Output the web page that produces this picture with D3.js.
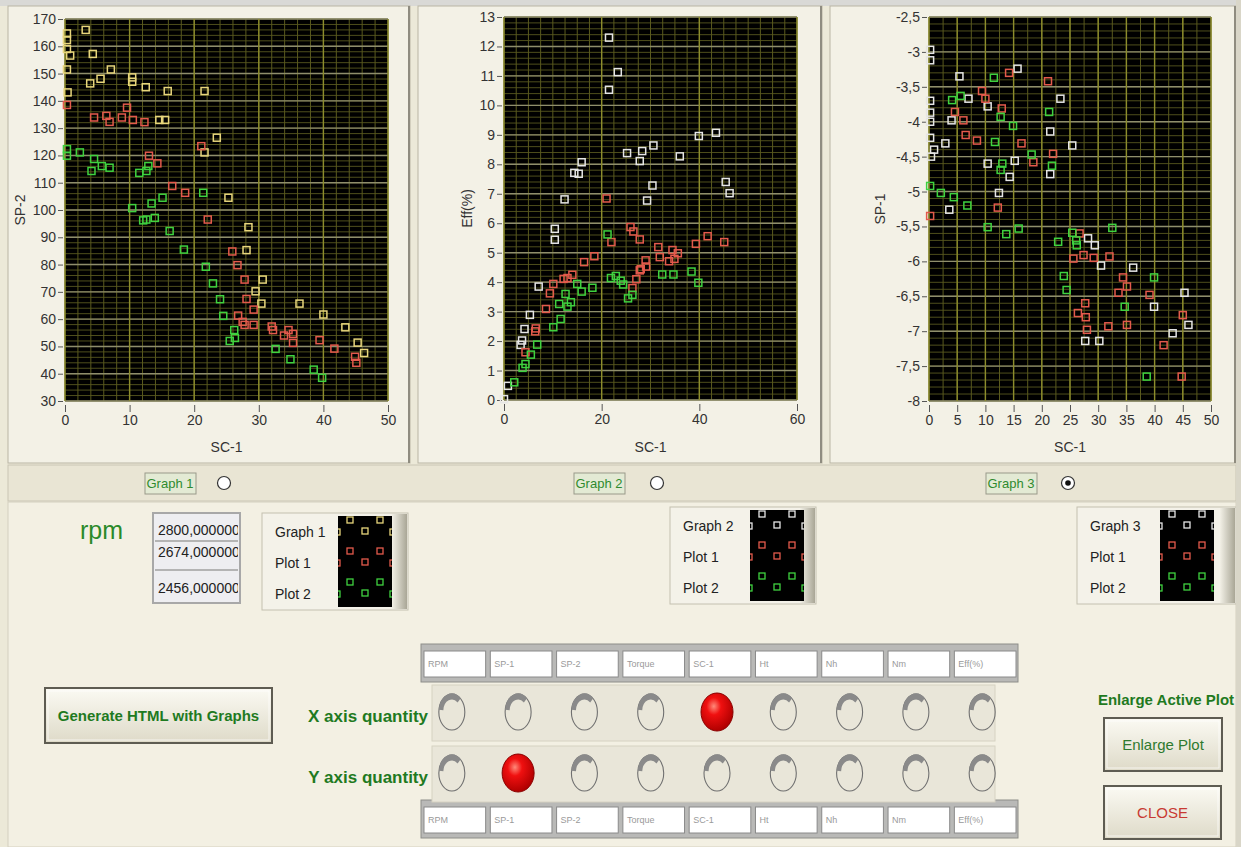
<!DOCTYPE html>
<html>
<head>
<meta charset="utf-8">
<script src="https://cdnjs.cloudflare.com/ajax/libs/d3/7.8.5/d3.min.js"></script>
<style>
body { margin: 0; background: #ECE9D8; overflow: hidden; }
svg { display: block; }
</style>
</head>
<body>
<div id="svg-container"></div>
<script>
// ---- data: [SC-1, y] ----
var g1Yellow = [[0.3,164.7],[0.3,162.3],[0.3,159],[0.8,156.6],[0.3,151.5],[0.4,143.1],[3.2,166],[4.3,157.2],[3.9,146.4],[5.5,148.1],
    [7.1,151.5],[10.4,148.6],[10.4,147],[12.5,145],[15.9,143.6],[21.6,143.6],[14.6,133],[15.5,133],[23.5,126.5],[21.6,121.1],
    [25.3,104.5],[28.4,93.7],[28.1,85.3],[30.6,74.5],[29.5,70.2],[30.4,65.7],[36.3,65.7],[40,61.7],[43.4,57],[45.3,51.4],[46.3,47.6]]
var g1Red = [[0.3,138.5],[4.5,133.9],[6.4,134.5],[6.9,132.3],[8.8,133.9],[9.6,137.5],[10.5,133],[12.3,132.2],[13,119.9],[14.3,117.1],
    [21.1,123.4],[16.6,108.8],[18.6,106.3],[22.1,96.5],[25.9,84.8],[26.7,79.8],[27.8,74.5],[28.1,67.4],[26.8,61.3],[27.5,59],
    [27.8,57.9],[29.2,63.5],[29.2,57.9],[32,57.3],[32.2,56],[33.9,54],[34.6,56],[35.3,54.6],[35.3,51.3],[39.4,52.3],[41.7,49.2],
    [44.9,46.2],[45.1,44]]
var g1Green = [[0.3,122.3],[0.3,119.9],[2.3,121.1],[4.5,118.7],[4.1,114.3],[5.7,116.1],[6.9,115.5],[11.5,113.6],[12.6,114.3],[12.9,116.1],
    [10.4,100.7],[12.1,96.2],[12.6,96.5],[13.9,97.1],[13.4,102.4],[15.1,104.5],[16.2,92.3],[18.4,85.5],[21.4,106.3],[21.8,79.2],
    [22.9,73.1],[24,67.3],[24.5,61.2],[26.2,56],[26.3,53.1],[25.5,52],[32.6,49.1],[34.9,45.3],[38.5,41.5],[39.8,38.5]]

var g2White = [[0,0.03],[0.8,0.48],[3.4,1.87],[3.7,2.02],[4.2,2.41],[5.3,2.89],[7.1,3.85],[10.4,5.44],[10.4,5.81],[12.4,6.81],
    [14.4,7.71],[15.3,7.68],[15.9,8.07],[21.5,12.3],[23.3,11.13],[21.5,10.53],[25.2,8.38],[28.3,8.45],[27.8,8.11],[30.6,8.64],
    [30.4,7.28],[29.3,6.77],[36,8.27],[39.9,8.96],[43.4,9.07],[45.4,7.4],[46.2,7.02]]
var g2Red = [[4.4,1.62],[6.4,2.33],[6.5,2.43],[8.6,3.09],[9.4,3.62],[10.1,3.94],[12.2,4.11],[13,4.14],[14,4.25],[16.4,4.68],
    [18.5,4.88],[21,6.84],[22,5.36],[25.9,5.87],[26.5,5.72],[27.8,5.45],[29,4.74],[29.1,4.53],[28,4.44],[27.8,4.4],[27.1,4.1],
    [26.3,3.8],[31.6,5.19],[31.9,4.85],[33.8,4.71],[34.5,5.09],[34.9,4.79],[35.6,4.98],[39.3,5.3],[41.7,5.56],[45.1,5.36]]
var g2Green = [[2.1,0.6],[3.8,1.09],[4.4,1.22],[5.5,1.54],[6.8,1.88],[10.1,2.47],[11.6,2.75],[11.3,3.26],[12.6,3.6],[13,3.17],
    [13.7,3.32],[15,3.94],[15.9,3.68],[18.1,3.81],[21.2,5.62],[21.9,4.14],[22.9,4.21],[23.9,4.05],[24.4,3.92],[25.4,3.45],
    [26.3,3.57],[32.4,4.26],[34.7,4.26],[38.4,4.36],[39.8,3.98]]

var g3White = [[0.2,-2.97],[0.2,-3.12],[0.2,-3.7],[0.2,-3.87],[0.2,-4.0],[0.2,-4.23],[0.35,-4.5],[0.9,-4.4],[2.9,-4.31],[5.4,-3.35],
    [4,-3.98],[7,-3.67],[3.6,-5.26],[10.4,-3.78],[10.4,-4.6],[12.4,-5.02],[14.3,-4.79],[15.2,-4.56],[15.7,-3.24],[21.5,-4.14],
    [21.5,-4.75],[23.3,-3.67],[25.4,-4.34],[28.2,-5.67],[29.4,-5.77],[30.5,-6.06],[27.7,-7.14],[30.2,-7.14],[36.2,-6.09],
    [39.9,-6.65],[43.2,-7.03],[45.3,-6.45],[46,-6.91]]
var g3Red = [[0.2,-5.35],[4.6,-3.86],[6.1,-3.98],[6.5,-4.19],[8.5,-4.27],[9.4,-3.56],[10,-3.67],[12.9,-3.81],[12.2,-5.23],[14.2,-3.3],
    [16.4,-4.31],[18.5,-4.58],[21.1,-3.42],[22,-4.46],[25.6,-5.96],[26.7,-5.6],[27.4,-5.91],[29.2,-5.95],[32,-5.93],[26.4,-6.74],
    [27.7,-6.6],[27.8,-6.8],[28,-6.98],[31.8,-6.93],[33.6,-6.45],[34.4,-6.23],[35.1,-6.36],[35.1,-6.91],[39.1,-6.48],[41.6,-7.2],
    [45,-6.77],[44.8,-7.65]]
var g3Green = [[0.2,-4.92],[2.1,-5.02],[4.4,-5.08],[4.1,-3.69],[5.6,-3.63],[6.8,-5.2],[10.4,-5.51],[11.5,-3.37],[11.7,-4.29],[12.7,-3.93],
    [13,-4.6],[12.7,-4.69],[13.7,-5.61],[14.9,-4.06],[15.9,-5.53],[18.2,-4.47],[21.3,-3.86],[21.8,-4.63],[22.9,-5.72],[25.4,-5.59],
    [26.1,-5.7],[26.2,-5.77],[23.9,-6.21],[24.4,-6.41],[32.5,-5.52],[34.7,-6.65],[39.9,-6.23],[38.6,-7.65]]

// tick labels
var g1XTicks = [0, 10, 20, 30, 40, 50]
var g1YTicks = [30, 40, 50, 60, 70, 80, 90, 100, 110, 120, 130, 140, 150, 160, 170]
var g2XTicks = [0, 20, 40, 60]
var g2YTicks = [0, 1, 2, 3, 4, 5, 6, 7, 8, 9, 10, 11, 12, 13]
var g3XTicks = [0, 5, 10, 15, 20, 25, 30, 35, 40, 45, 50]
var g3YTicks = [-8, -7.5, -7, -6.5, -6, -5.5, -5, -4.5, -4, -3.5, -3, -2.5]

// front panel texts
var quantities = ["RPM", "SP-1", "SP-2", "Torque", "SC-1", "Ht", "Nh", "Nm", "Eff(%)"]
var rpmValues = ["2800,000000", "2674,000000", "2456,000000"]
var plotNames = ["Plot 1", "Plot 2"]
var xSelected = "SC-1"
var ySelected = "SP-1"

var FONT = "'Liberation Sans', Arial, sans-serif"
var GREEN_TXT = "#1f7a1f"
var YELLOW = "#e8d67c", RED = "#e35a4c", GREEN = "#3fd23f", WHITE = "#e6e6e6"

var svg = d3.select("div#svg-container")
    .append("svg")
    .attr("width", 1241)
    .attr("height", 847)
    .style("font-family", FONT)

var defs = svg.append("defs")
var bg = defs.append("linearGradient").attr("id", "btn").attr("x1", 0).attr("y1", 0).attr("x2", 0).attr("y2", 1)
bg.append("stop").attr("offset", "0%").attr("stop-color", "#fbfaf3")
bg.append("stop").attr("offset", "100%").attr("stop-color", "#dedac8")
var edge = defs.append("linearGradient").attr("id", "edge").attr("x1", 0).attr("y1", 0).attr("x2", 1).attr("y2", 0)
edge.append("stop").attr("offset", "0%").attr("stop-color", "#f2f0e6")
edge.append("stop").attr("offset", "100%").attr("stop-color", "#a9a696")
var led = defs.append("radialGradient").attr("id", "led").attr("cx", "40%").attr("cy", "35%").attr("r", "65%")
led.append("stop").attr("offset", "0%").attr("stop-color", "#ff8a7a")
led.append("stop").attr("offset", "35%").attr("stop-color", "#f01010")
led.append("stop").attr("offset", "100%").attr("stop-color", "#b00000")

// window background
svg.append("rect").attr("width", 1241).attr("height", 847).attr("fill", "#ECE9D8")
svg.append("rect").attr("width", 1241).attr("height", 6).attr("fill", "#d9d9d6")

// ---- the three graphs ----
var graphs = [
    {panel: [8, 6, 402, 457], plot: [65, 388, 19, 401], xDomain: [0, 50], yDomain: [30, 170],
        xTicks: g1XTicks, yTicks: g1YTicks, xMinor: 2, yMinor: 2, yTitle: "SP-2", yTitleX: 20,
        series: [[g1Yellow, YELLOW], [g1Red, RED], [g1Green, GREEN]]},
    {panel: [418, 6, 404, 457], plot: [504, 797, 17, 400], xDomain: [0, 60], yDomain: [0, 13],
        xTicks: g2XTicks, yTicks: g2YTicks, xMinor: 2.5, yMinor: 0.2, yTitle: "Eff(%)", yTitleX: 467,
        series: [[g2White, WHITE], [g2Red, RED], [g2Green, GREEN]]},
    {panel: [830, 6, 406, 457], plot: [929, 1211, 17, 401], xDomain: [0, 50], yDomain: [-8, -2.5],
        xTicks: g3XTicks, yTicks: g3YTicks, xMinor: 2.5, yMinor: 0.1, yTitle: "SP-1", yTitleX: 880,
        series: [[g3White, WHITE], [g3Red, RED], [g3Green, GREEN]]}
]

var commaFmt = function (d) { return String(d).replace(".", ",") }

graphs.forEach(function (g) {
    var p = g.panel
    svg.append("rect").attr("x", p[0]).attr("y", p[1]).attr("width", p[2]).attr("height", p[3])
        .attr("fill", "#f3f1e6").attr("stroke", "#b9b5a4")
    svg.append("line").attr("x1", p[0] + p[2] - 1).attr("x2", p[0] + p[2] - 1).attr("y1", p[1]).attr("y2", p[1] + p[3])
        .attr("stroke", "#8f8c80").attr("stroke-width", 2)

    var x = d3.scaleLinear().domain(g.xDomain).range([g.plot[0], g.plot[1]])
    var y = d3.scaleLinear().domain(g.yDomain).range([g.plot[3], g.plot[2]])

    svg.append("rect").attr("x", g.plot[0]).attr("y", g.plot[2])
        .attr("width", g.plot[1] - g.plot[0]).attr("height", g.plot[3] - g.plot[2]).attr("fill", "#000")

    var grid = svg.append("g")
    // minor grid first, majors on top
    var xm = d3.range(g.xDomain[0], g.xDomain[1] + 1e-9, g.xMinor)
    var ym = d3.range(g.yDomain[0], g.yDomain[1] + 1e-9, g.yMinor)
    grid.selectAll("line.ym").data(ym).enter().append("line")
        .attr("x1", g.plot[0]).attr("x2", g.plot[1]).attr("y1", y).attr("y2", y)
        .attr("stroke", "#4e4e1c").attr("stroke-width", 1)
    grid.selectAll("line.xm").data(xm).enter().append("line")
        .attr("y1", g.plot[2]).attr("y2", g.plot[3]).attr("x1", x).attr("x2", x)
        .attr("stroke", "#5a5a1e").attr("stroke-width", 1)
    grid.selectAll("line.yM").data(g.yTicks).enter().append("line")
        .attr("x1", g.plot[0]).attr("x2", g.plot[1]).attr("y1", y).attr("y2", y)
        .attr("stroke", "#8f8e6c").attr("stroke-width", 1.4)
    grid.selectAll("line.xM").data(g.xTicks).enter().append("line")
        .attr("y1", g.plot[2]).attr("y2", g.plot[3]).attr("x1", x).attr("x2", x)
        .attr("stroke", "#8c8c2c").attr("stroke-width", 1.4)

    var yAxis = svg.append("g")
        .attr("transform", "translate(" + (g.plot[0] - 2) + ",0)")
        .call(d3.axisLeft(y).tickValues(g.yTicks).tickSize(5).tickPadding(2).tickFormat(commaFmt))
    var xAxis = svg.append("g")
        .attr("transform", "translate(0," + (g.plot[3] + 4) + ")")
        .call(d3.axisBottom(x).tickValues(g.xTicks).tickSize(7).tickPadding(3).tickFormat(commaFmt))
    ;[yAxis, xAxis].forEach(function (a) {
        a.select(".domain").remove()
        a.selectAll("line").attr("stroke", "#555")
        a.selectAll("text").attr("fill", "#333").style("font-size", "14px").style("font-family", FONT)
    })

    svg.append("text").attr("x", (g.plot[0] + g.plot[1]) / 2).attr("y", 452)
        .attr("text-anchor", "middle").attr("fill", "#333").style("font-size", "14px").text("SC-1")
    svg.append("text").attr("transform", "translate(" + g.yTitleX + "," + ((g.plot[2] + g.plot[3]) / 2) + ") rotate(-90)")
        .attr("text-anchor", "middle").attr("dy", "0.35em").attr("fill", "#333").style("font-size", "14px").text(g.yTitle)

    g.series.forEach(function (s) {
        svg.append("g").selectAll("rect").data(s[0]).enter().append("rect")
            .attr("x", function (d) { return x(d[0]) - 3.5 })
            .attr("y", function (d) { return y(d[1]) - 3.5 })
            .attr("width", 7).attr("height", 7)
            .attr("fill", "none").attr("stroke", s[1]).attr("stroke-width", 1.5)
    })
})

// ---- graph selector strip ----
svg.append("rect").attr("x", 8).attr("y", 465).attr("width", 1228).attr("height", 36)
    .attr("fill", "#e9e5d4").attr("stroke", "#c9c5b4")
var selectors = [{name: "Graph 1", x: 145, r: 224, on: false}, {name: "Graph 2", x: 574, r: 657, on: false},
    {name: "Graph 3", x: 986, r: 1068, on: true}]
selectors.forEach(function (s) {
    svg.append("rect").attr("x", s.x).attr("y", 473).attr("width", 51).attr("height", 21)
        .attr("fill", "#e3ead4").attr("stroke", "#9a9a8a")
    svg.append("text").attr("x", s.x + 25).attr("y", 488).attr("text-anchor", "middle")
        .attr("fill", "#2f8a2f").style("font-size", "13px").text(s.name)
    svg.append("circle").attr("cx", s.r).attr("cy", 483).attr("r", 6.5)
        .attr("fill", "#fff").attr("stroke", "#333").attr("stroke-width", 1.2)
    if (s.on) svg.append("circle").attr("cx", s.r).attr("cy", 483).attr("r", 2.8).attr("fill", "#111")
})

// lower front panel
svg.append("rect").attr("x", 8).attr("y", 502).attr("width", 1228).attr("height", 345)
    .attr("fill", "#f3f0e3").attr("stroke", "#d4d0bf")

// rpm list
svg.append("text").attr("x", 80).attr("y", 539).attr("fill", "#2a8a2a").style("font-size", "25px").text("rpm")
svg.append("rect").attr("x", 153).attr("y", 513).attr("width", 87).attr("height", 90)
    .attr("fill", "#eeeef1").attr("stroke", "#a8a8a8").attr("stroke-width", 2)
svg.append("clipPath").attr("id", "rpmclip").append("rect").attr("x", 155).attr("y", 513).attr("width", 83).attr("height", 90)
var rpmY = d3.scalePoint().domain(rpmValues).range([530, 588])
svg.append("g").attr("clip-path", "url(#rpmclip)").selectAll("text").data(rpmValues).enter().append("text")
    .attr("x", 158).attr("y", function (d, i) { return i == 1 ? 552 : rpmY(d) }).attr("dy", "0.35em")
    .attr("fill", "#222").style("font-size", "14px").text(function (d) { return d })
;[541, 570].forEach(function (yy) {
    svg.append("line").attr("x1", 155).attr("x2", 238).attr("y1", yy).attr("y2", yy).attr("stroke", "#b4b4b4").attr("stroke-width", 2)
})

// plot legends
var legends = [
    {x: 262, y: 513, w: 146, h: 97, sw: 338, title: "Graph 1", c: [YELLOW, RED, GREEN]},
    {x: 670, y: 507, w: 146, h: 97, sw: 750, title: "Graph 2", c: [WHITE, RED, GREEN]},
    {x: 1077, y: 507, w: 159, h: 97, sw: 1160, title: "Graph 3", c: [WHITE, RED, GREEN]}
]
legends.forEach(function (L, k) {
    svg.append("rect").attr("x", L.x).attr("y", L.y).attr("width", L.w).attr("height", L.h)
        .attr("fill", "#f4f2e9").attr("stroke", "#c4c0b0")
    svg.append("rect").attr("x", L.x + L.w - 16).attr("y", L.y + 1).attr("width", 15).attr("height", L.h - 2)
        .attr("fill", "url(#edge)")
    svg.append("rect").attr("x", L.sw).attr("y", L.y + 3).attr("width", 54).attr("height", L.h - 6).attr("fill", "#000")
    var names = [L.title].concat(plotNames)
    var rowY = d3.scalePoint().domain(names).range([L.y + 19, L.y + 81])
    svg.append("clipPath").attr("id", "sw" + k).append("rect")
        .attr("x", L.sw).attr("y", L.y + 3).attr("width", 54).attr("height", L.h - 6)
    var sg = svg.append("g").attr("clip-path", "url(#sw" + k + ")")
    names.forEach(function (n, i) {
        var ry = rowY(n)
        svg.append("text").attr("x", L.x + 13).attr("y", ry).attr("dy", "0.35em")
            .attr("fill", "#222").style("font-size", "14px").text(n)
        ;[[12, -12], [42, -12], [-1, 0], [27, -1], [55, 0]].forEach(function (o) {
            sg.append("rect").attr("x", L.sw + o[0] - 3).attr("y", ry + o[1] - 3).attr("width", 6).attr("height", 6)
                .attr("fill", "none").attr("stroke", L.c[i]).attr("stroke-width", 1.3)
        })
    })
})

// buttons
function button(x, y, w, h, label, color, size, bold) {
    svg.append("rect").attr("x", x).attr("y", y).attr("width", w).attr("height", h)
        .attr("fill", "url(#btn)").attr("stroke", "#5e5c52").attr("stroke-width", 2)
    svg.append("rect").attr("x", x + 3).attr("y", y + 3).attr("width", w - 6).attr("height", h - 6)
        .attr("fill", "none").attr("stroke", "#ffffff").attr("stroke-opacity", 0.7)
    svg.append("text").attr("x", x + w / 2).attr("y", y + h / 2).attr("dy", "0.36em").attr("text-anchor", "middle")
        .attr("fill", color).style("font-size", size).style("font-weight", bold ? "bold" : "normal")
        .text(label)
}
button(45, 688, 227, 55, "Generate  HTML with  Graphs", GREEN_TXT, "15px", true)
svg.append("text").attr("x", 1166).attr("y", 705).attr("text-anchor", "middle").attr("fill", GREEN_TXT)
    .style("font-size", "15px").style("font-weight", "bold").text("Enlarge Active Plot")
button(1104, 718, 118, 53, "Enlarge Plot", "#2f7a2f", "15px", false)
button(1104, 786, 117, 53, "CLOSE", "#c83a32", "15px", false)

// ---- axis quantity selectors ----
var qx = d3.scaleBand().domain(quantities).range([424, 1016]).paddingInner(0.07)
function labelRow(y) {
    svg.append("rect").attr("x", 421).attr("y", y).attr("width", 597).attr("height", 38)
        .attr("fill", "#b9b9b7").attr("stroke", "#8e8e8a")
    svg.append("g").selectAll("rect").data(quantities).enter().append("rect")
        .attr("x", function (d) { return qx(d) }).attr("y", y + 7).attr("width", qx.bandwidth()).attr("height", 26)
        .attr("fill", "#fff").attr("stroke", "#8a8a8a")
    svg.append("g").selectAll("text").data(quantities).enter().append("text")
        .attr("x", function (d) { return qx(d) + 4 }).attr("y", y + 20).attr("dy", "0.35em")
        .attr("fill", "#9a9a9a").style("font-size", "9px").text(function (d) { return d })
}
labelRow(644)
labelRow(800)

// unlit LED: thin outline with a grey swoosh across the top
var ring = d3.arc().innerRadius(8.5).outerRadius(13).startAngle(-1.5).endAngle(0.75)
function ledRow(y, label, selected) {
    svg.append("rect").attr("x", 432).attr("y", y - 27).attr("width", 563).attr("height", 56)
        .attr("fill", "#e9e6d9").attr("stroke", "#d6d2c2")
    svg.append("text").attr("x", 428).attr("y", y + 4).attr("dy", "0.35em").attr("text-anchor", "end")
        .attr("fill", GREEN_TXT).style("font-size", "17px").style("font-weight", "bold").text(label)
    quantities.forEach(function (q) {
        var cx = qx(q) + qx.bandwidth() / 2 - 3
        if (q == selected) {
            svg.append("ellipse").attr("cx", cx).attr("cy", y).attr("rx", 16).attr("ry", 19)
                .attr("fill", "url(#led)").attr("stroke", "#8a0000")
        } else {
            svg.append("ellipse").attr("cx", cx).attr("cy", y).attr("rx", 13).attr("ry", 18)
                .attr("fill", "none").attr("stroke", "#707070").attr("stroke-width", 1.1)
            svg.append("path").attr("d", ring)
                .attr("transform", "translate(" + cx + "," + (y - 1) + ") scale(1,1.35)")
                .attr("fill", "#8a8a8a")
        }
    })
}
ledRow(712, "X axis quantity", xSelected)
ledRow(773, "Y axis quantity", ySelected)

// right window edge
svg.append("rect").attr("x", 1236).attr("y", 0).attr("width", 5).attr("height", 847).attr("fill", "#d9d6c8")
</script>
</body>
</html>
